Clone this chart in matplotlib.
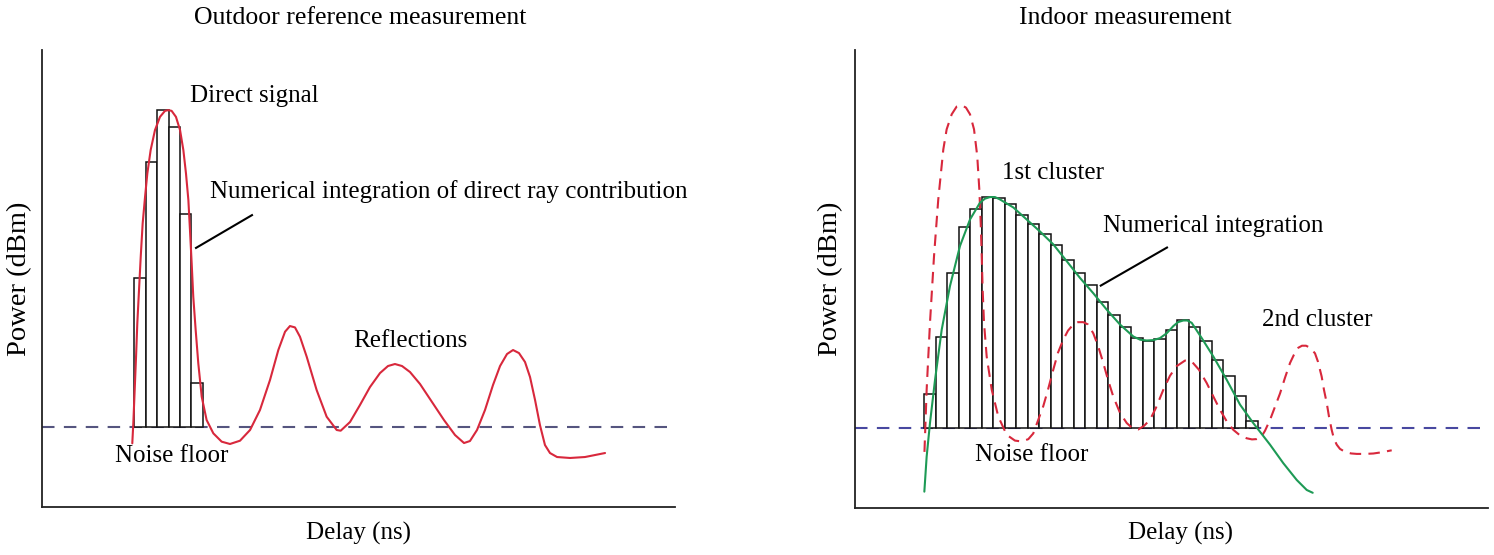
import matplotlib
matplotlib.use("Agg")
import matplotlib.pyplot as plt

plt.rcParams['font.family'] = ['Liberation Serif', 'DejaVu Serif']

# ---------------- data (delay in ns, power in dBm) ----------------
noise_floor = -90.0

# Outdoor reference: direct-ray integration bins
out_bin_delay = [8.6, 9.6, 10.6, 11.6, 12.6, 13.6]
out_bin_power = [-71.3, -56.8, -50.3, -52.5, -63.3, -84.5]

# Outdoor measured power-delay profile (red)
out_delay = [7.92, 8.01, 8.13, 8.25, 8.36, 8.51, 8.66, 8.83, 9.04, 9.24,
             9.53, 9.91, 10.35, 10.79, 11.08, 11.37, 11.75, 12.11, 12.40, 12.63,
             12.84, 12.98, 13.13, 13.27, 13.48, 13.71, 14.01, 14.44, 15.03, 15.76,
             16.49, 17.37, 18.25, 19.12, 20.00, 20.73, 21.32, 21.75, 22.19, 22.63,
             23.22, 24.09, 24.97, 25.85, 26.20, 27.02, 27.89, 28.77, 29.65, 30.35,
             30.96, 31.58, 32.28, 33.16, 34.21, 35.26, 36.23, 37.02, 37.54, 38.16,
             38.86, 39.56, 40.18, 40.79, 41.32, 41.84, 42.37, 42.81, 43.25, 43.68,
             44.12, 44.56, 45.18, 46.32, 47.63, 49.39]
out_power = [-92.04, -89.54, -85.37, -81.21, -77.04, -72.87, -68.71, -64.54, -61.21, -58.29,
             -55.37, -52.87, -51.21, -50.46, -50.37, -50.46, -51.21, -52.87, -55.37, -58.29,
             -61.62, -65.37, -69.54, -73.71, -77.87, -82.04, -86.21, -89.12, -90.79, -91.83,
             -92.12, -91.71, -90.37, -87.87, -84.12, -80.37, -78.08, -77.37, -77.54, -78.71,
             -81.21, -85.37, -88.71, -90.37, -90.46, -89.37, -87.25, -85.0, -83.25, -82.37,
             -82.12, -82.37, -83.12, -84.62, -86.87, -89.12, -91.0, -92.0, -91.75, -90.37,
             -87.87, -84.75, -82.37, -80.87, -80.37, -80.75, -81.87, -83.75, -86.62, -89.75,
             -92.25, -93.25, -93.75, -93.87, -93.75, -93.25]

# Indoor: integration bins
in_bin_delay = [6.5 + i for i in range(29)]
in_bin_power = [-85.75, -78.6, -70.7, -64.9, -62.7, -61.2, -61.3, -62.1, -63.5, -64.6,
                -65.75, -67.2, -69.0, -70.7, -72.2, -74.3, -75.9, -77.4, -78.8, -79.2,
                -78.9, -77.75, -76.6, -77.4, -79.1, -81.5, -83.5, -86.0, -89.2]

# Indoor: fitted cluster envelope (green)
in_fit_delay = [6.03, 6.23, 6.52, 6.96, 7.54, 8.26, 9.13, 10.0, 10.87, 11.30, 11.74,
                12.17, 12.61, 13.77, 14.93, 16.09, 17.24, 18.41, 19.57, 20.72, 21.89, 23.04,
                24.2, 24.8, 25.37, 25.95, 26.52, 27.10, 27.68, 28.10, 28.55, 28.90, 29.28,
                30.15, 31.16, 32.32, 33.48, 34.63, 36.09, 37.24, 38.41, 39.28, 39.8]
in_fit_power = [-97.96, -93.6, -89.4, -84.0, -77.75, -72.3, -67.3, -64.0, -61.9, -61.4, -61.2,
                -61.2, -61.5, -62.5, -64.0, -65.5, -67.1, -69.2, -71.3, -73.2, -75.25, -77.1,
                -78.6, -79.0, -79.1, -79.05, -78.8, -78.2, -77.3, -76.8, -76.6, -76.6, -76.9,
                -78.8, -81.1, -84.0, -87.1, -89.4, -92.1, -94.4, -96.5, -97.75, -98.1]

# Indoor: measured power-delay profile (red dashed)
in_delay = [6.04, 6.23, 6.52, 6.87, 7.24, 7.68, 7.97, 8.41, 8.84, 9.28,
            9.65, 10.0, 10.35, 10.63, 10.81, 10.93, 11.02, 11.10, 11.22, 11.45,
            11.89, 12.46, 13.19, 13.91, 14.50, 15.07, 15.50, 16.37, 16.78, 17.24,
            17.65, 18.11, 18.52, 18.98, 19.39, 19.85, 20.26, 20.72, 21.13, 21.59,
            22.0, 22.46, 23.04, 23.63, 24.09, 24.63, 25.13, 25.65, 26.17, 26.81,
            27.39, 27.97, 28.70, 29.30, 29.91, 30.58, 31.13, 31.74, 32.35, 32.90,
            33.48, 34.06, 34.52, 34.93, 35.30, 35.65, 36.09, 36.52, 36.96, 37.39,
            37.83, 38.17, 38.55, 38.87, 39.22, 39.57, 40.0, 40.26, 40.58, 40.78,
            41.02, 41.22, 41.45, 41.65, 41.89, 42.17, 42.61, 43.13, 43.63, 44.35,
            45.07, 45.83, 46.67]
in_power = [-93.0, -85.25, -76.9, -68.6, -61.5, -55.25, -52.75, -50.87, -49.91, -49.75,
            -50.04, -50.87, -52.75, -56.09, -60.25, -64.4, -68.59, -72.75, -76.91, -81.09,
            -85.25, -88.59, -90.87, -91.59, -91.7, -91.41, -90.7, -87.3, -85.25, -82.75,
            -80.62, -79.0, -77.87, -77.1, -76.81, -76.81, -77.1, -78.2, -79.75, -81.9,
            -84.0, -86.1, -88.12, -89.4, -90.0, -90.2, -89.75, -89.0, -87.5, -85.25,
            -83.5, -82.3, -81.6, -81.75, -82.75, -84.4, -86.0, -87.75, -89.25, -90.25,
            -90.94, -91.3, -91.44, -91.4, -91.19, -90.37, -89.0, -87.37, -85.7, -83.75,
            -81.9, -80.87, -80.0, -79.75, -79.75, -80.0, -80.7, -81.75, -83.6, -85.25,
            -86.9, -88.62, -90.25, -91.37, -92.1, -92.62, -93.0, -93.19, -93.25, -93.25,
            -93.2, -93.04, -92.8]

# ---------------- styling ----------------
W, H = 1494, 555
RED = '#d8283c'
GREEN = '#1d9a55'
FS = 18
FS_TITLE = 18.5
FS_YLAB = 20.5

fig = plt.figure(figsize=(W / 100, H / 100), dpi=100)

def make_axes(left, right, top, bottom):
    return fig.add_axes([left / W, (H - bottom) / H, (right - left) / W, (bottom - top) / H])

ax1 = make_axes(42, 675, 50, 507)
ax2 = make_axes(855, 1488, 50, 508)

for ax in (ax1, ax2):
    for s in ('top', 'right'):
        ax.spines[s].set_visible(False)
    for s in ('left', 'bottom'):
        ax.spines[s].set_linewidth(1.3)
        ax.spines[s].set_color('#222222')
    ax.set_xticks([])
    ax.set_yticks([])
    ax.set_ylim(-100, -42.85)
    ax.set_facecolor('white')

ax1.set_xlim(0, 633 / 11.4)
ax2.set_xlim(0, 633 / 11.5)

# ---------- left panel ----------
ax1.axhline(noise_floor, color='#55557f', lw=1.5, ls=(0, (6, 4.5)), zorder=1)
ax1.bar(out_bin_delay, [p - noise_floor for p in out_bin_power], width=1.0,
        bottom=noise_floor, facecolor='white', edgecolor='#111111', linewidth=1.1, zorder=2)
ax1.plot(out_delay, out_power, color=RED, lw=1.5, zorder=3,
         solid_joinstyle='round', solid_capstyle='round')
ax1.plot([18.42, 13.51], [-63.5, -67.6], color='black', lw=1.5, zorder=4)

ax1.text(12.98, -48.6, 'Direct signal', fontsize=FS, va='center', ha='left')
ax1.text(14.74, -60.6, 'Numerical integration of direct ray contribution', fontsize=FS,
         va='center', ha='left')
ax1.text(27.28, -79.25, 'Reflections', fontsize=FS, va='center', ha='left')
ax1.text(6.40, -93.6, 'Noise floor', fontsize=FS, va='center', ha='left')

# ---------- right panel ----------
ax2.axhline(noise_floor, color='#4848a0', lw=1.5, ls=(0, (6, 4.5)), zorder=1)
ax2.bar(in_bin_delay, [p - noise_floor for p in in_bin_power], width=1.0,
        bottom=noise_floor, facecolor='white', edgecolor='#111111', linewidth=1.1, zorder=2)
ax2.plot(in_delay, in_power, color=RED, lw=1.5, ls=(0, (5.5, 3.5)), zorder=3)
ax2.plot(in_fit_delay, in_fit_power, color=GREEN, lw=1.5, zorder=4,
         solid_joinstyle='round', solid_capstyle='round')
ax2.plot([27.13, 21.37], [-67.5, -72.25], color='black', lw=1.5, zorder=5)

ax2.text(12.78, -58.25, '1st cluster', fontsize=FS, va='center', ha='left')
ax2.text(21.57, -64.75, 'Numerical integration', fontsize=FS, va='center', ha='left')
ax2.text(35.39, -76.5, '2nd cluster', fontsize=FS, va='center', ha='left')
ax2.text(10.43, -93.4, 'Noise floor', fontsize=FS, va='center', ha='left')

# ---------- titles and axis labels ----------
fig.text(360 / W, 1 - 18 / H, 'Outdoor reference measurement', fontsize=FS_TITLE, ha='center', va='center')
fig.text(1125 / W, 1 - 18 / H, 'Indoor measurement', fontsize=FS_TITLE, ha='center', va='center')
fig.text(359 / W, 1 - 533 / H, 'Delay (ns)', fontsize=FS, ha='center', va='center')
fig.text(1180 / W, 1 - 533 / H, 'Delay (ns)', fontsize=FS, ha='center', va='center')
fig.text(20 / W, 1 - 279 / H, 'Power (dBm)', fontsize=FS_YLAB, ha='center', va='center', rotation=90)
fig.text(831 / W, 1 - 279 / H, 'Power (dBm)', fontsize=FS_YLAB, ha='center', va='center', rotation=90)

fig.savefig('out.png', dpi=100, facecolor='white')
